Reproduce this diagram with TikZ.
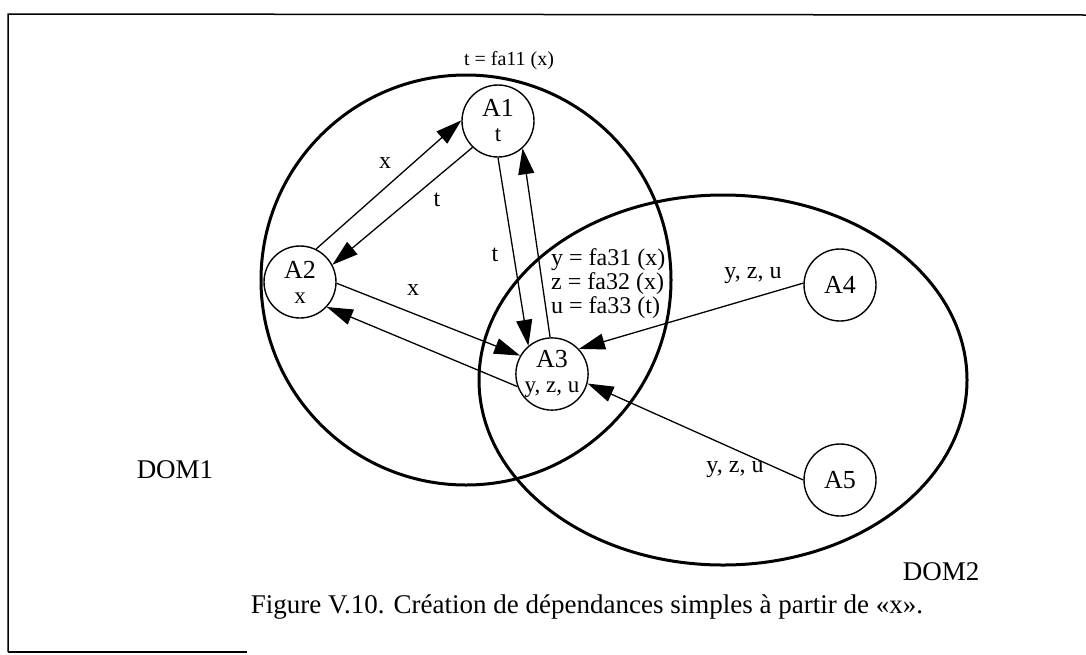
\documentclass[tikz,border=0pt]{standalone}
\usepackage{fontspec}
\setmainfont{Liberation Serif}
\usetikzlibrary{arrows.meta}
\begin{document}
\begin{tikzpicture}[x=1pt,y=-1pt,
  agent/.style={circle,draw,line width=1.4pt,minimum size=72pt,inner sep=0pt,align=center,font=\fontsize{23}{25}\selectfont},
  dom/.style={draw,line width=3pt},
  flow/.style={line width=1.3pt,-{Triangle[length=26pt,width=16pt]}},
  lbl/.style={font=\fontsize{24}{24}\selectfont,inner sep=0pt},
  domlbl/.style={font=\fontsize{27}{27}\selectfont,inner sep=0pt},
  frame/.style={line width=1.5pt}
]
\newcommand\ttl[1]{{\fontsize{26}{26}\selectfont #1}}
\useasboundingbox (0,0) rectangle (1086,654);
% frame
\coordinate (fb) at (8,652);
\coordinate (ft) at (8,14);
\coordinate (fr) at (1086,15);
\coordinate (fe) at (247,652);
\draw[frame] (fb) -- (ft) -- (fr);
\draw[frame] (fb) -- (fe);
% domains
\draw[dom] (466,280) circle[radius=205pt];
\draw[dom] (723,380) ellipse[x radius=244pt,y radius=185pt];
% agents
\node[agent] (a1) at (498,121) {\ttl{A1}\\t};
\node[agent] (a2) at (300,282) {\ttl{A2}\\x};
\node[agent] (a3) at (552,374) {\ttl{A3}\\y, z, u};
\node[agent] (a4) at (840,285) {\ttl{A4}};
\node[agent] (a5) at (840,480) {\ttl{A5}};
% connectors
\draw[flow] (a2.64) -- (a1.179);
\draw[flow] (a1.226) -- (a2.28);
\draw[flow] (a1.270) -- (a3.130);
\draw[flow] (a3.93) -- (a1.-48);
\draw[flow] (a2.-2) -- (a3.150);
\draw[flow] (a3.200) -- (a2.-43);
\draw[flow] (a4.177) -- (a3.43);
\draw[flow] (a5.180) -- (a3.-15);
% labels
\node[font=\fontsize{20}{20}\selectfont,inner sep=0pt] (lt) at (509,61) {t = fa11 (x)};
\node[lbl] (l21) at (385,163) {x};
\node[lbl] (l12) at (437,200) {t};
\node[lbl] (l13) at (495,255) {t};
\node[lbl] (l23) at (413,290) {x};
\node[lbl,align=left,anchor=west] (lf) at (551,284) {y = fa31 (x)\\z = fa32 (x)\\u = fa33 (t)};
\node[lbl] (l43) at (753,276) {y, z, u};
\node[lbl] (l53) at (735,470) {y, z, u};
\node[domlbl] (d1) at (175,470) {DOM1};
\node[domlbl] (d2) at (941,572) {DOM2};
\node[font=\fontsize{27}{27}\selectfont,inner sep=0pt] (cap) at (587,607) {Figure V.10. Création de dépendances simples à partir de «x».};
\end{tikzpicture}
\end{document}
